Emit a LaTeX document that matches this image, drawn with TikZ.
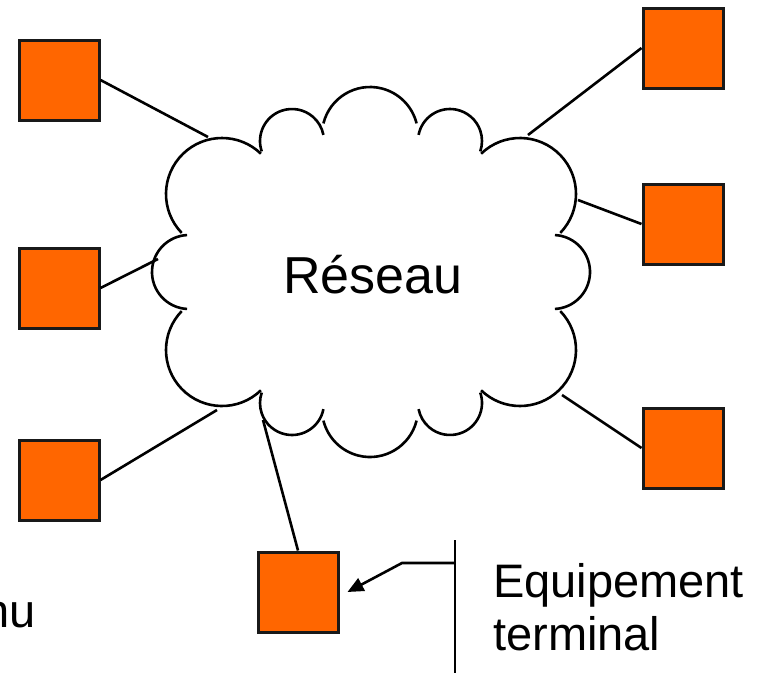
\documentclass[tikz,border=0pt]{standalone}
\usepackage{fontspec}
\setmainfont{Liberation Sans}
\usepackage{xcolor}
\definecolor{termorange}{HTML}{FF6600}
\usetikzlibrary{arrows.meta}
\tikzset{Term/.style={rectangle,draw=black!90,line width=3pt,fill=termorange,minimum size=80pt,inner sep=0pt}}
\tikzset{Puff/.style={line width=2.6pt}}
\tikzset{Lbl/.style={inner sep=0pt,font=\fontsize{47}{53}\selectfont}}

\begin{document}
\begin{tikzpicture}[x=1pt,y=-1pt]
    \useasboundingbox (0,0) rectangle (760,675);
    \clip (0,0) rectangle (760,675);
    \begin{scope}[Puff]
      \draw (189,272) ++(93:37) arc[start angle=93,end angle=267,radius=37];
      \draw (222,194) ++(136:56) arc[start angle=136,end angle=314,radius=56];
      \draw (292,141) ++(161:32) arc[start angle=161,end angle=349,radius=32];
      \draw (370,135) ++(194:48) arc[start angle=194,end angle=346,radius=48];
      \draw (450,141) ++(191:32) arc[start angle=191,end angle=379,radius=32];
      \draw (520,194) ++(226:56) arc[start angle=226,end angle=404,radius=56];
      \draw (553,272) ++(273:37) arc[start angle=273,end angle=447,radius=37];
      \draw (520,350) ++(-44:56) arc[start angle=-44,end angle=134,radius=56];
      \draw (450,403) ++(-19:32) arc[start angle=-19,end angle=169,radius=32];
      \draw (370,409) ++(14:48) arc[start angle=14,end angle=166,radius=48];
      \draw (292,403) ++(11:32) arc[start angle=11,end angle=199,radius=32];
      \draw (222,350) ++(46:56) arc[start angle=46,end angle=224,radius=56];
    \end{scope}
    \node[inner sep=0pt,font=\fontsize{52}{60}\selectfont,anchor=base] (reseau) at (373,293) {Réseau};
    \coordinate (c1) at (208,137);
    \coordinate (c2) at (158,259);
    \coordinate (c3) at (217,410);
    \coordinate (c4) at (528,135);
    \coordinate (c5) at (578,200);
    \coordinate (c6) at (562,395);
    \coordinate (c7) at (263,420);
    \node[Term] (t1) at (59,80) {};
    \node[Term] (t2) at (59,288) {};
    \node[Term] (t3) at (59,480) {};
    \node[Term] (t4) at (683,48) {};
    \node[Term] (t5) at (683,224) {};
    \node[Term] (t6) at (683,448) {};
    \node[Term] (t7) at (298,592) {};
    \begin{scope}[Puff]
      \draw (t1.east) -- (c1);
      \draw (t2.east) -- (c2);
      \draw (t3.east) -- (c3);
      \draw (t4.west) -- (c4);
      \draw (t5.west) -- (c5);
      \draw (t6.west) -- (c6);
      \draw (t7.north) -- (c7);
    \end{scope}
    \coordinate (bartop) at (455,540);
    \coordinate (barbot) at (455,673);
    \coordinate (bar) at (455,563);
    \coordinate (elbow) at (402,563);
    \draw[Puff] (bartop) -- (barbot);
    \draw[Puff,-{Triangle[length=16pt,width=14pt]}] (bar) -- (elbow) -- ([xshift=8pt]t7.east);
    \node[Lbl,anchor=base west] (eq1) at (493,597) {Equipement};
    \node[Lbl,anchor=base west] (eq2) at (493,650) {terminal};
    \node[Lbl,anchor=base east] (nu) at (36,627) {nu};
\end{tikzpicture}
\end{document}
